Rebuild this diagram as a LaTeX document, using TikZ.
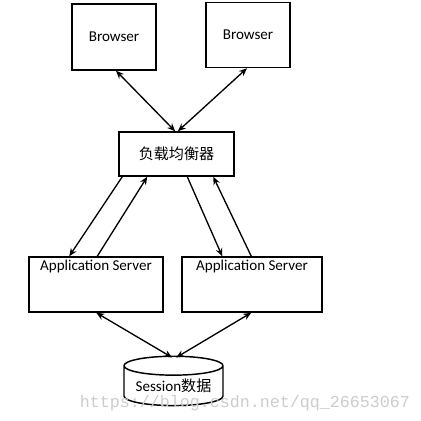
\documentclass[tikz,border=0pt]{standalone}
\usepackage{fontspec}
\setmainfont{Carlito}
\newfontfamily\cjk{Noto Sans CJK SC}
\newfontfamily\wmfont{Liberation Mono}
\usetikzlibrary{arrows.meta,shapes.geometric}

\tikzset{
  box/.style={draw, line width=1.1pt, inner sep=0pt, font=\fontsize{11.3}{13}\selectfont},
  link/.style={line width=1pt, >={Stealth[length=6pt,width=5pt]}}
}

\begin{document}
\begin{tikzpicture}[x=0.75pt,y=0.75pt,yscale=-1,xscale=1]
\useasboundingbox (0,0) rectangle (421,421);

%Shape: Rectangle [id:browserA]
\node [box, minimum width=63pt, minimum height=49.5pt] (browserA) at (114,37) {Browser};
%Shape: Rectangle [id:browserB]
\node [box, minimum width=63pt, minimum height=48.75pt] (browserB) at (248,35) {Browser};
%Shape: Rectangle [id:balancer]
\node [box, minimum width=86.25pt, minimum height=33pt] (balancer) at (176.5,154) {\cjk 负载均衡器};
%Shape: Rectangle [id:appA]
\node [box, minimum width=100.5pt, minimum height=41.25pt,
  label={[anchor=north, yshift=1pt, font=\fontsize{11.3}{13}\selectfont]north:Application Server}] (appA) at (96,284.5) {};
%Shape: Rectangle [id:appB]
\node [box, minimum width=105pt, minimum height=41.25pt,
  label={[anchor=north, yshift=1pt, font=\fontsize{11.3}{13}\selectfont]north:Application Server}] (appB) at (252,284.5) {};
%Shape: Can [id:store]
\node [box, cylinder, shape border rotate=90, aspect=0.25, minimum width=74.25pt, minimum height=37pt] (store) at (173.5,386) {Session{\cjk 数据}};

%Straight Lines [id:browsers]
\draw [link, <->] ([xshift=1.5pt]browserA.south) -- ([xshift=-1pt]balancer.north);
\draw [link, <->] ([xshift=-0.75pt]browserB.south) -- ([xshift=1pt]balancer.north);

%Straight Lines [id:balance]
\draw [link, ->] ([xshift=3pt]balancer.south west) -- ([xshift=30.75pt]appA.north west);
\draw [link, ->] ([xshift=51.75pt]appA.north west) -- ([xshift=21.75pt]balancer.south west);
\draw [link, ->] ([xshift=51.75pt]balancer.south west) -- ([xshift=30.75pt]appB.north west);
\draw [link, ->] ([xshift=52.5pt]appB.north west) -- ([xshift=71.25pt]balancer.south west);

%Straight Lines [id:sessions]
\draw [link, <->] ([xshift=51pt]appA.south west) -- ([xshift=-1pt, yshift=1.5pt]store.north);
\draw [link, <->] ([xshift=52.5pt]appB.south west) -- ([xshift=2pt, yshift=1.5pt]store.north);

% Text Node
\node [text=black!20, font=\wmfont\fontsize{12.5}{14}\selectfont] (mark) at (245,403) {https://blog.csdn.net/qq\_26653067};

\end{tikzpicture}
\end{document}
